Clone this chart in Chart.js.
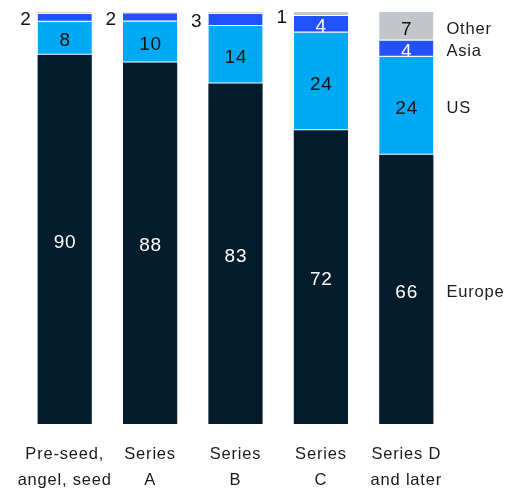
<!DOCTYPE html>
<html>
<head>
<meta charset="utf-8">
<script src="https://cdn.jsdelivr.net/npm/chart.js@4"></script>
<style>
  html, body { margin: 0; padding: 0; background: #fff; }
  #wrap { width: 507px; height: 492px; }
</style>
</head>
<body>
<div id="wrap"><canvas id="stackChart" width="507" height="492"></canvas></div>
<script>
// funding stages and regional share of each (percent)
const stages = [["Pre-seed,", "angel, seed"], ["Series", "A"], ["Series", "B"], ["Series", "C"], ["Series D", "and later"]];
const europe = [90, 88, 83, 72, 66];
const us     = [8, 10, 14, 24, 24];
const asia   = [2, 2, 3, 4, 4];
const other  = [0.4, 0.3, 0.4, 1, 7];
const regions = ["Europe", "US", "Asia", "Other"];

const colors    = ["#051c2c", "#00a9f4", "#2251ff", "#c3c7cb"];
const textColor = ["#ffffff", "#111111", "#ffffff", "#111111"];

const raw = [europe, us, asia, other];

// rounded shares don't always add to 100, so scale each column to its total
const totals = stages.map((s, i) => raw.reduce((sum, arr) => sum + arr[i], 0));
const scaled = raw.map(arr => arr.map((v, i) => v / totals[i] * 100));

const FONT = "'Liberation Sans', Arial, sans-serif";
const SPACING = '0.8px';

// a little tracking on all canvas text
const tracking = {
  id: 'tracking',
  beforeLayout(chart) { chart.ctx.letterSpacing = SPACING; },
  beforeDraw(chart) { chart.ctx.letterSpacing = SPACING; }
};

// writes the numbers on the segments and the region names beside the last bar
const segmentLabels = {
  id: 'segmentLabels',
  afterDatasetsDraw(chart) {
    const ctx = chart.ctx;
    ctx.save();
    ctx.letterSpacing = SPACING;
    chart.data.datasets.forEach((ds, d) => {
      const meta = chart.getDatasetMeta(d);
      meta.data.forEach((bar, i) => {
        const v = raw[d][i];
        const label = Math.round(v);
        if (label < 1) return;
        const top = Math.min(bar.y, bar.base);
        const h = Math.abs(bar.base - bar.y);
        const mid = top + h / 2;
        ctx.font = "19px " + FONT;
        ctx.textBaseline = 'middle';
        if (h >= 13) {
          ctx.fillStyle = textColor[d];
          ctx.textAlign = 'center';
          ctx.fillText(String(label), bar.x + 0.4, mid + 3);
        } else {
          // too thin: put the number to the left of the bar top
          ctx.fillStyle = "#111111";
          ctx.textAlign = 'right';
          ctx.fillText(String(label), bar.x - bar.width / 2 - 6, Math.max(mid + 2, 18));
        }
      });
    });

    // region names next to the last column
    const last = stages.length - 1;
    ctx.font = "16.5px " + FONT;
    ctx.fillStyle = "#1a1a1a";
    ctx.textAlign = 'left';
    ctx.textBaseline = 'middle';
    chart.data.datasets.forEach((ds, d) => {
      const bar = chart.getDatasetMeta(d).data[last];
      const mid = (bar.y + bar.base) / 2;
      ctx.fillText(regions[d], bar.x + bar.width / 2 + 13, mid + 3);
    });
    ctx.restore();
  }
};

const chart = new Chart(document.getElementById('stackChart'), {
  type: 'bar',
  data: {
    labels: stages,
    datasets: regions.map((name, d) => ({
      label: name,
      data: scaled[d],
      backgroundColor: colors[d],
      borderColor: '#ffffff',
      borderWidth: d === 0 ? 0 : { top: 0, bottom: 1, left: 0, right: 0 },
      borderSkipped: false,
      barPercentage: 0.635,
      categoryPercentage: 1
    }))
  },
  options: {
    responsive: false,
    animation: false,
    events: [],
    layout: { padding: { left: 22, right: 58, top: 12, bottom: 0 } },
    plugins: {
      legend: { display: false },
      tooltip: { enabled: false }
    },
    scales: {
      x: {
        stacked: true,
        grid: { display: false, drawTicks: false },
        border: { display: false },
        afterFit(scale) {
          scale.height = 68;
          // long two-line labels may hang over the edges
          scale.paddingLeft = 0;
          scale.paddingRight = 0;
        },
        ticks: {
          color: '#1a1a1a',
          font: { family: FONT, size: 16.5, lineHeight: 1.58 },
          padding: 17,
          maxRotation: 0,
          autoSkip: false
        }
      },
      y: {
        stacked: true,
        display: false,
        min: 0,
        max: 100
      }
    }
  },
  plugins: [tracking, segmentLabels]
});
</script>
</body>
</html>
